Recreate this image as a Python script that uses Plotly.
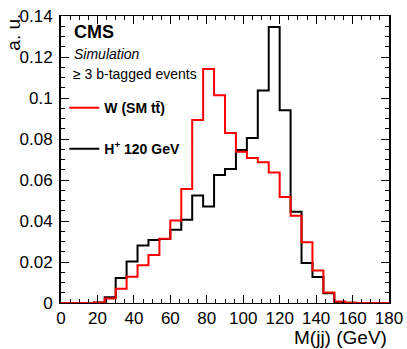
import plotly.graph_objects as go

# ---- data ----
bin_edges = list(range(0, 181, 6))  # 30 bins of 6 GeV
h_plus_120 = [0, 0, 0, 0.0003, 0.0028, 0.0122, 0.0203, 0.0280, 0.0307, 0.0312,
              0.0357, 0.0406, 0.0525, 0.0471, 0.0624, 0.0654, 0.0746, 0.0805, 0.1037, 0.1346,
              0.0940, 0.0445, 0.0195, 0.0127, 0.0048, 0.0003, 0.0001, 0, 0, 0]
w_sm_ttbar = [0, 0, 0, 0.0002, 0.0022, 0.0069, 0.0128, 0.0184, 0.0234, 0.0314,
              0.0403, 0.0556, 0.0893, 0.1141, 0.1013, 0.0829, 0.0738, 0.0707, 0.0686, 0.0637,
              0.0517, 0.0426, 0.0296, 0.0159, 0.0051, 0.0007, 0.0001, 0, 0, 0]
x_ticks = [0, 20, 40, 60, 80, 100, 120, 140, 160, 180]
y_ticks = [0, 0.02, 0.04, 0.06, 0.08, 0.1, 0.12, 0.14]

FONT = "Liberation Sans, Arial, Helvetica, sans-serif"

fig = go.Figure()
fig.add_trace(go.Scatter(
    x=bin_edges, y=h_plus_120 + [h_plus_120[-1]], mode="lines", line_shape="hv",
    line=dict(color="black", width=2), name="<b>H<sup>+</sup> 120 GeV</b>",
    legendgroup="h", legendrank=2))
fig.add_trace(go.Scatter(
    x=bin_edges, y=w_sm_ttbar + [w_sm_ttbar[-1]], mode="lines", line_shape="hv",
    line=dict(color="#ff0000", width=2), name="<b>W (SM tt\u0304)</b>",
    legendgroup="w", legendrank=1))

axis_common = dict(showgrid=False, zeroline=False, showline=True, linecolor="black",
                   ticks="inside", ticklen=8, tickwidth=1, tickcolor="black",
                   mirror="ticks", automargin=False,
                   tickfont=dict(family=FONT, size=17, color="black"))

fig.update_xaxes(range=[0, 180], tickvals=x_ticks, linewidth=1,
                 minor=dict(ticks="inside", ticklen=4, dtick=5, tickcolor="black"),
                 **axis_common)
fig.update_yaxes(range=[0, 0.14], tickvals=y_ticks, linewidth=2,
                 minor=dict(ticks="inside", ticklen=4, dtick=0.005, tickcolor="black"),
                 ticklabelstandoff=3,
                 **axis_common)

fig.update_layout(
    width=407, height=349,
    margin=dict(l=61, r=18, t=16, b=46, autoexpand=False),
    paper_bgcolor="white", plot_bgcolor="white",
    font=dict(family=FONT, color="black"),
    showlegend=True,
    legend=dict(x=0.01, y=0.735, xanchor="left", yanchor="top",
                bgcolor="rgba(0,0,0,0)", font=dict(family=FONT, size=14, color="black"),
                tracegroupgap=20, traceorder="grouped"),
    annotations=[
        dict(text="<b>CMS</b>", xref="paper", yref="paper", x=0.035, y=0.943,
             xanchor="left", yanchor="middle", showarrow=False,
             font=dict(family=FONT, size=18)),
        dict(text="<i>Simulation</i>", xref="paper", yref="paper", x=0.035, y=0.868,
             xanchor="left", yanchor="middle", showarrow=False,
             font=dict(family=FONT, size=14)),
        dict(text="\u2265 3 b-tagged events", xref="paper", yref="paper", x=0.03, y=0.798,
             xanchor="left", yanchor="middle", showarrow=False,
             font=dict(family=FONT, size=14)),
        dict(text="a. u.", xref="paper", yref="paper", x=-0.145, y=1.015,
             xanchor="center", yanchor="top", textangle=-90, showarrow=False,
             font=dict(family=FONT, size=19)),
        dict(text="M(jj) (GeV)", xref="paper", yref="paper", x=1.0, y=-0.078,
             xanchor="right", yanchor="top", showarrow=False,
             font=dict(family=FONT, size=19)),
    ],
)

fig.write_html("out.html", config={"displayModeBar": False},
               post_script="document.body.style.margin='0';document.body.style.padding='0';")
